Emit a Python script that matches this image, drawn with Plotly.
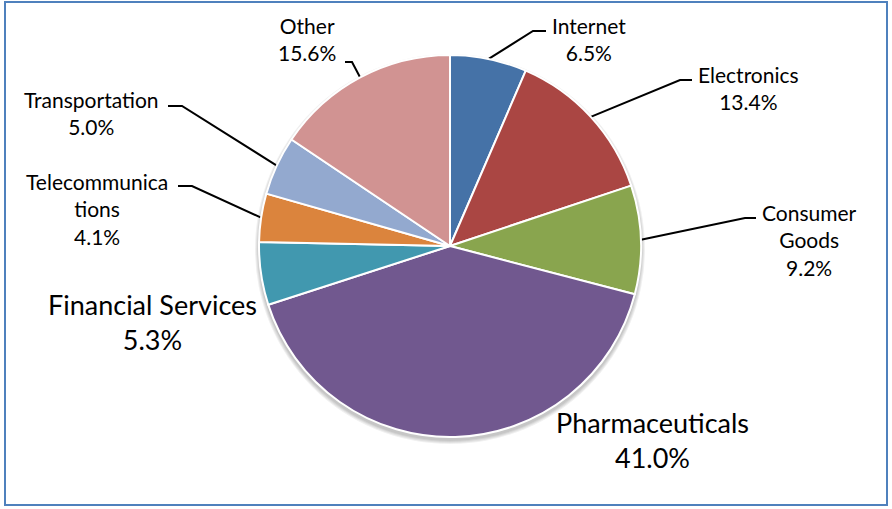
import math
import plotly.graph_objects as go

# Sector shares (%), clockwise from 12 o'clock
sectors = ["Internet", "Electronics", "Consumer Goods", "Pharmaceuticals",
           "Financial Services", "Telecommunications", "Transportation", "Other"]
shares = [6.5, 13.4, 9.2, 41.0, 5.3, 4.1, 5.0, 15.6]
label_text = ["Internet", "Electronics", "Consumer<br>Goods", "Pharmaceuticals",
              "Financial Services", "Telecommunica<br>tions", "Transportation", "Other"]
colors = ["#4572A7", "#AA4643", "#89A54E", "#71588F",
          "#4198AF", "#DB843D", "#93A9CF", "#D19392"]

W, H = 892, 509
CX, CY, R = 450, 246, 191

# label layout: (text x, text y, elbow x, elbow y, end x, font size); elbow None = no leader
label_layout = {
    "Internet":           (589, 39, 533, 31, 546, 21),
    "Electronics":        (748, 88, 680, 80, 692, 21),
    "Consumer Goods":     (809, 240, 745, 218, 756, 21),
    "Pharmaceuticals":    (652, 440, None, None, None, 27),
    "Financial Services": (152, 322, None, None, None, 27),
    "Telecommunications": (97, 209, 192, 186, 178, 21),
    "Transportation":     (91, 113, 182, 106, 168, 21),
    "Other":              (307, 39, 352, 62, 345, 21),
}

fig = go.Figure()

fig.add_trace(go.Pie(
    labels=sectors, values=shares, sort=False, direction="clockwise", rotation=0,
    marker=dict(colors=colors, line=dict(color="white", width=2)),
    textinfo="none", hoverinfo="label+percent", showlegend=False,
    domain=dict(x=[(CX - R) / W, (CX + R) / W], y=[1 - (CY + R) / H, 1 - (CY - R) / H]),
))

total = sum(shares)
cum = 0.0
for name, val, txt in zip(sectors, shares, label_text):
    mid = (cum + val / 2) / total * 2 * math.pi
    cum += val
    tx, ty, ex, ey, hx, fs = label_layout[name]
    if ex is not None:
        sx = CX + R * math.sin(mid)
        sy = CY - R * math.cos(mid)
        fig.add_trace(go.Scatter(
            x=[sx, ex, hx], y=[sy, ey, ey], mode="lines",
            line=dict(color="black", width=2), hoverinfo="skip", showlegend=False,
        ))
    fig.add_annotation(
        x=tx, y=ty, xref="x", yref="y", showarrow=False,
        text=f"{txt}<br>{val:.1f}%", align="center",
        font=dict(family="Lato", size=fs, color="black"),
    )

# soft drop shadow under the pie
for k in range(1, 5):
    fig.add_shape(type="circle", xref="x", yref="y", layer="below",
                  x0=CX - R - k, x1=CX + R + k, y0=CY - R - k + 3, y1=CY + R + k + 3,
                  line=dict(width=0), fillcolor="rgba(0,0,0,0.06)")

# chart frame
fig.add_shape(type="rect", xref="x", yref="y", x0=5, y0=2, x1=887, y1=505,
              line=dict(color="#4F81BD", width=2), fillcolor="rgba(0,0,0,0)")

fig.update_layout(
    width=W, height=H, margin=dict(l=0, r=0, t=0, b=0),
    paper_bgcolor="white", plot_bgcolor="rgba(0,0,0,0)",
    xaxis=dict(range=[0, W], visible=False, fixedrange=True, domain=[0, 1]),
    yaxis=dict(range=[H, 0], visible=False, fixedrange=True, domain=[0, 1]),
)

fig.write_html("out.html")
